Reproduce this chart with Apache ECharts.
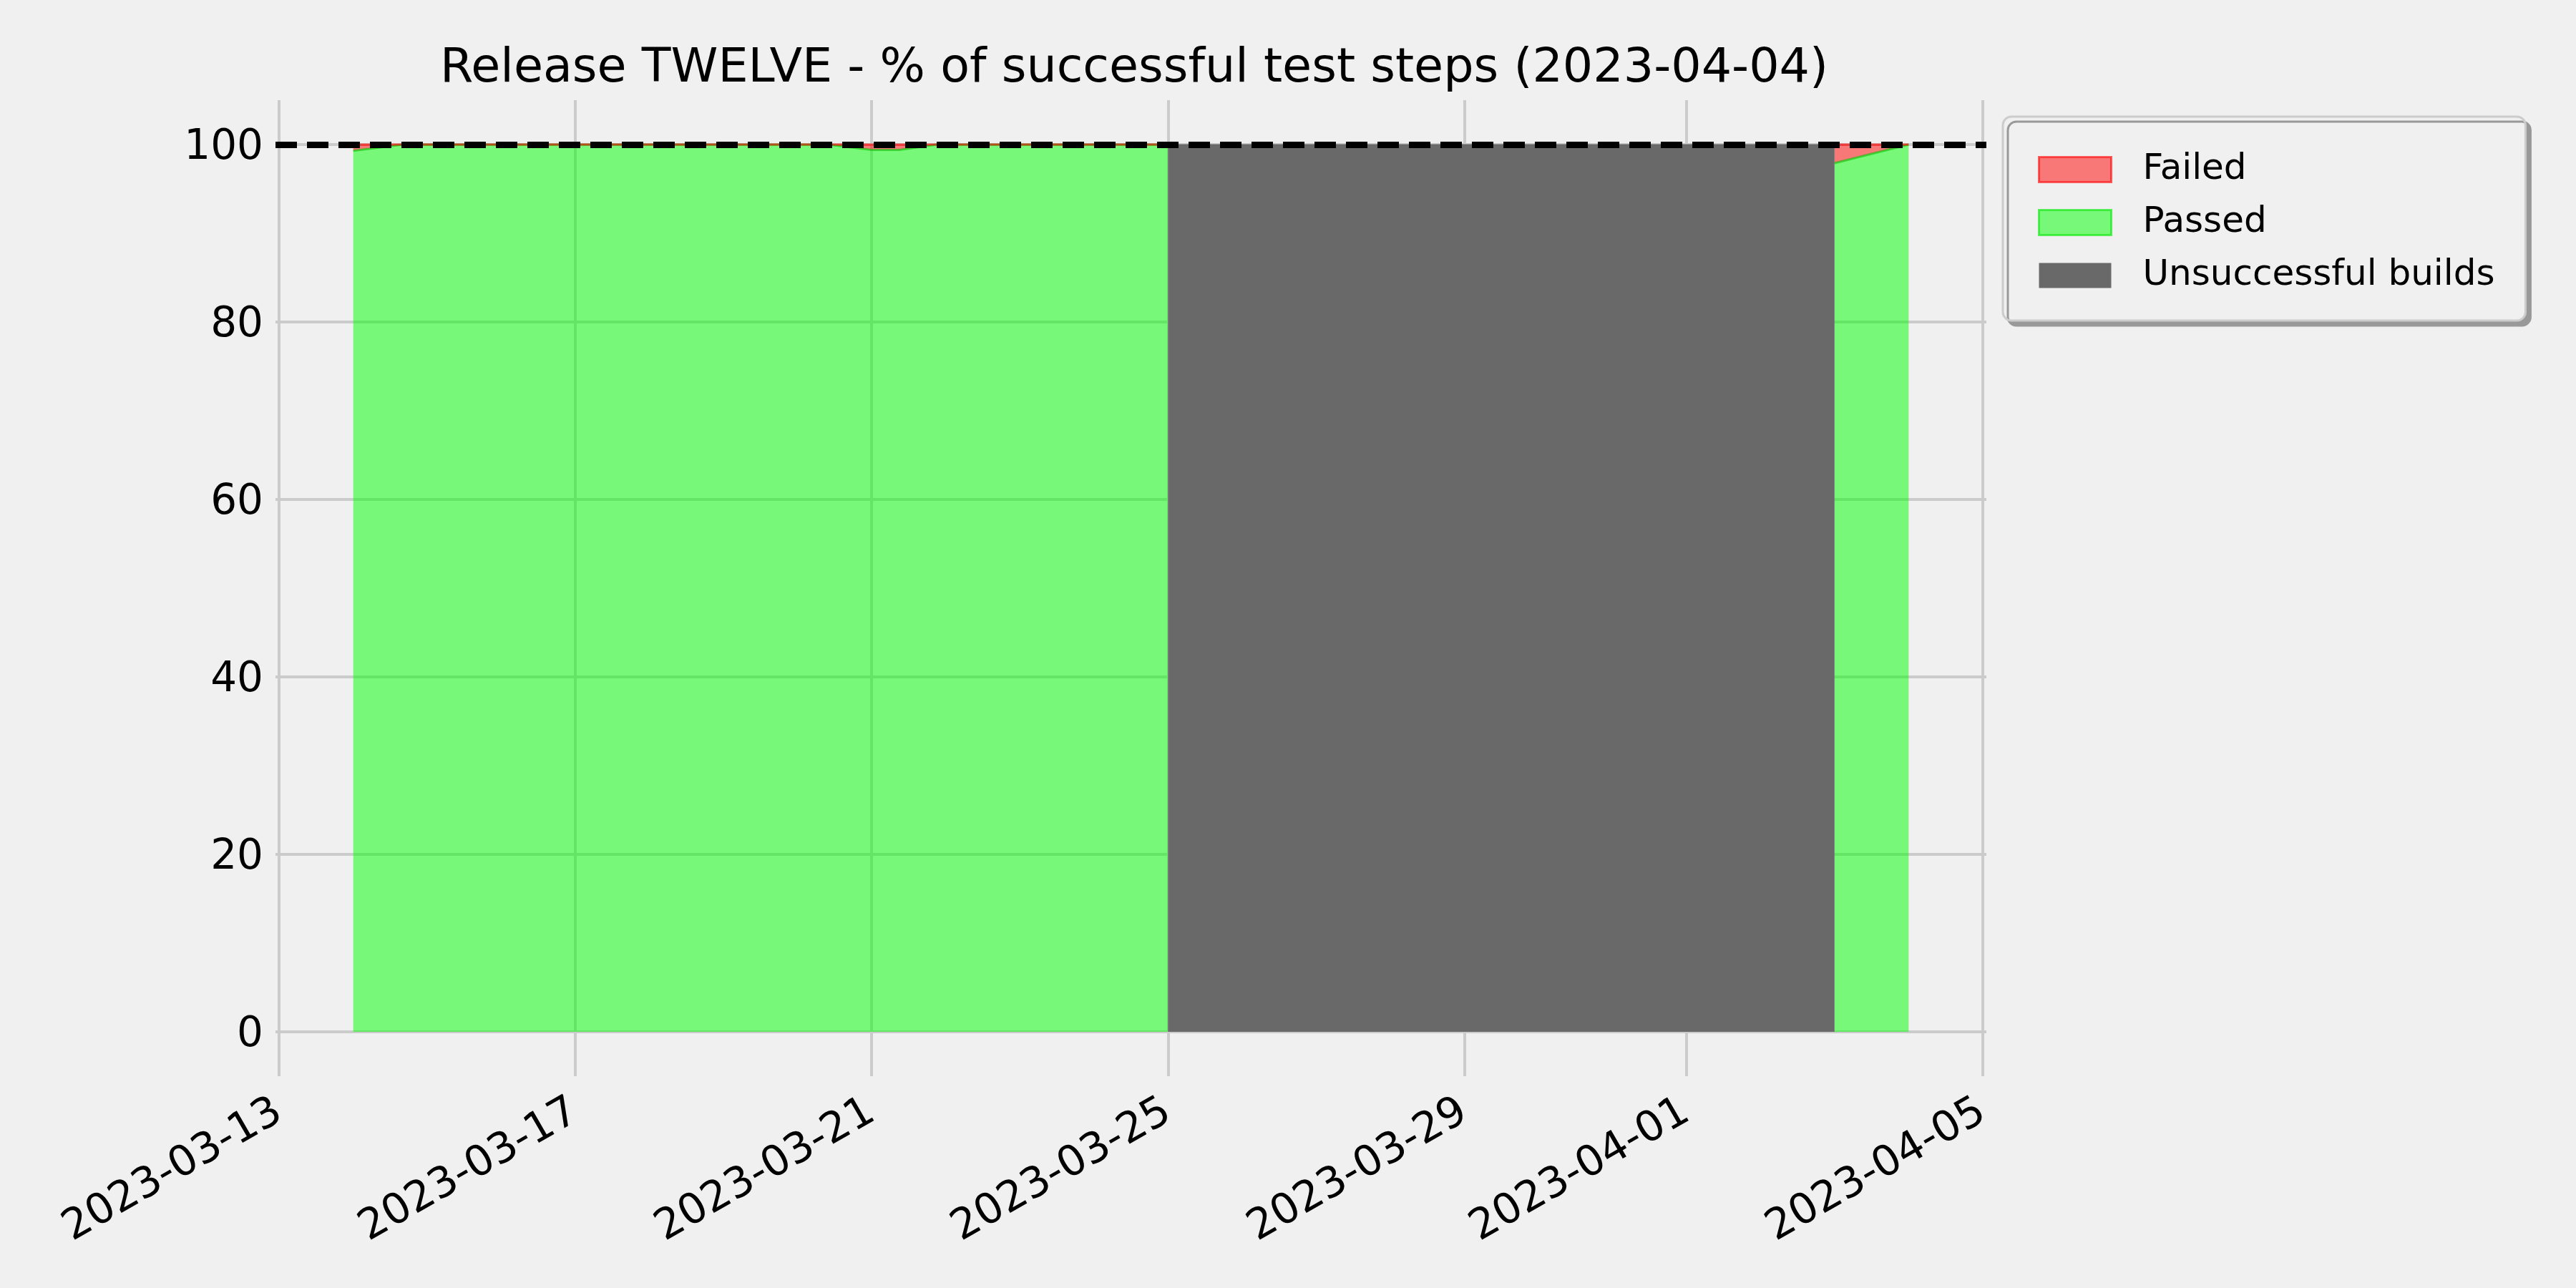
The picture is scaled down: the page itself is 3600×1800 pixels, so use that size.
<!DOCTYPE html>
<html>
<head>
<meta charset="utf-8">
<script src="https://cdn.jsdelivr.net/npm/echarts@6/dist/echarts.min.js"></script>
<style>
html,body{margin:0;padding:0;background:#f0f0f0;}
#chart{width:3600px;height:1800px;}
</style>
</head>
<body>
<div id="chart"></div>
<script>
// ---- data ----
const titleText = 'Release TWELVE - % of successful test steps (2023-04-04)';
const times = ['2023-03-14 00:00','2023-03-14 16:00','2023-03-20 10:00','2023-03-21 00:00','2023-03-21 09:00','2023-03-21 21:00','2023-03-25 00:00','2023-03-29 00:00','2023-04-03 00:00','2023-04-04 00:00'];
const passed = [99.3, 100, 100, 99.4, 99.4, 100, 100, null, 97.9, 100];
const failed = [0.7, 0, 0, 0.6, 0.6, 0, 0, null, 2.1, 0];
const unsuccessfulTimes = ['2023-03-25 00:00', '2023-04-03 00:00'];
const unsuccessful = [100, 100];
const xTickLabels = ['2023-03-13','2023-03-17','2023-03-21','2023-03-25','2023-03-29','2023-04-01','2023-04-05'];
const yTicks = [0, 20, 40, 60, 80, 100];
const targetValue = 100;
const xMin = '2023-03-12 22:48';
const xMax = '2023-04-05 01:12';
const yMin = -5, yMax = 105;

// ---- chart ----
const FONT = 'DejaVu Sans';
const chart = echarts.init(document.getElementById('chart'), null, {renderer: 'canvas'});
const ts = s => echarts.time.parse(s).getTime();
const xTickValues = xTickLabels.map(ts);
const zip = (xs, ys) => xs.map((x, i) => [ts(x), ys[i]]);

const option = {
  backgroundColor: '#f0f0f0',
  animation: false,
  textStyle: {fontFamily: FONT},
  title: {
    text: titleText,
    left: 1580, top: 58, textAlign: 'center',
    textStyle: {fontFamily: FONT, fontSize: 66.7, fontWeight: 'normal', color: '#000'}
  },
  legend: {
    orient: 'vertical',
    left: 2799, top: 163,
    padding: [49, 43, 38, 49],
    itemWidth: 101, itemHeight: 35, itemGap: 24,
    icon: 'rect',
    selectedMode: false,
    backgroundColor: '#f0f0f0',
    borderColor: '#cccccc', borderWidth: 3, borderRadius: 12,
    shadowColor: '#999999', shadowBlur: 0.01, shadowOffsetX: 7, shadowOffsetY: 7,
    textStyle: {fontFamily: FONT, fontSize: 50, color: '#000', padding: [0, 0, 0, 39]},
    data: [
      {name: 'Failed', itemStyle: {color: 'rgba(255,0,0,0.5)', borderColor: 'rgba(255,0,0,0.6)', borderWidth: 3}},
      {name: 'Passed', itemStyle: {color: 'rgba(0,255,0,0.5)', borderColor: 'rgba(0,230,0,0.6)', borderWidth: 3}},
      {name: 'Unsuccessful builds', itemStyle: {color: '#696969', borderWidth: 0}}
    ]
  },
  grid: {left: 385, right: 824, top: 140, bottom: 296, containLabel: false},
  xAxis: [
    {
      type: 'time',
      min: ts(xMin), max: ts(xMax),
      axisLine: {show: false},
      axisTick: {show: false},
      splitLine: {show: false},
      axisLabel: {show: false}
    },
    {
      type: 'value',
      position: 'bottom',
      min: ts(xMin), max: ts(xMax),
      axisLine: {show: false},
      axisTick: {show: false},
      splitLine: {show: false},
      axisLabel: {
        customValues: xTickValues,
        rotate: 30,
        margin: 46,
        fontFamily: FONT, fontSize: 59, color: '#000',
        formatter: v => echarts.time.format(v, '{yyyy}-{MM}-{dd}', false)
      }
    }
  ],
  yAxis: {
    type: 'value',
    min: yMin, max: yMax,
    axisLine: {show: false},
    axisTick: {show: false},
    splitLine: {show: false},
    axisLabel: {
      customValues: yTicks,
      margin: 17,
      verticalAlign: 'top',
      lineHeight: 9,
      fontFamily: FONT, fontSize: 58, color: '#000'
    }
  },
  series: [
    {
      name: 'grid',
      type: 'line',
      xAxisIndex: 0,
      data: [],
      z: 1,
      silent: true,
      markLine: {
        silent: true, symbol: 'none', animation: false, z: 1,
        label: {show: false},
        lineStyle: {color: '#cbcbcb', width: 4, type: 'solid'},
        data: xTickValues.map(v => ({xAxis: v})).concat(yTicks.map(v => ({yAxis: v})))
      }
    },
    {
      name: 'Passed',
      type: 'line',
      xAxisIndex: 0,
      stack: 'pct',
      data: zip(times, passed),
      showSymbol: false,
      connectNulls: false,
      z: 3,
      itemStyle: {color: 'rgba(0,255,0,0.5)'},
      lineStyle: {color: 'rgba(0,200,0,0.6)', width: 3},
      areaStyle: {color: 'rgba(0,255,0,0.5)', opacity: 1}
    },
    {
      name: 'Failed',
      type: 'line',
      xAxisIndex: 0,
      stack: 'pct',
      data: zip(times, failed),
      showSymbol: false,
      connectNulls: false,
      z: 3,
      itemStyle: {color: 'rgba(255,0,0,0.5)'},
      lineStyle: {color: 'rgba(255,0,0,0.6)', width: 3},
      areaStyle: {color: 'rgba(255,0,0,0.5)', opacity: 1}
    },
    {
      name: 'Unsuccessful builds',
      type: 'line',
      xAxisIndex: 0,
      data: zip(unsuccessfulTimes, unsuccessful),
      showSymbol: false,
      z: 4,
      itemStyle: {color: '#696969'},
      lineStyle: {color: '#696969', width: 1},
      areaStyle: {color: '#696969', opacity: 1},
      markLine: {
        silent: true, symbol: 'none', animation: false,
        label: {show: false},
        lineStyle: {color: '#000', width: 9, type: [30, 14]},
        data: [{yAxis: targetValue}],
        z: 10
      }
    }
  ]
};
chart.setOption(option);
</script>
</body>
</html>
